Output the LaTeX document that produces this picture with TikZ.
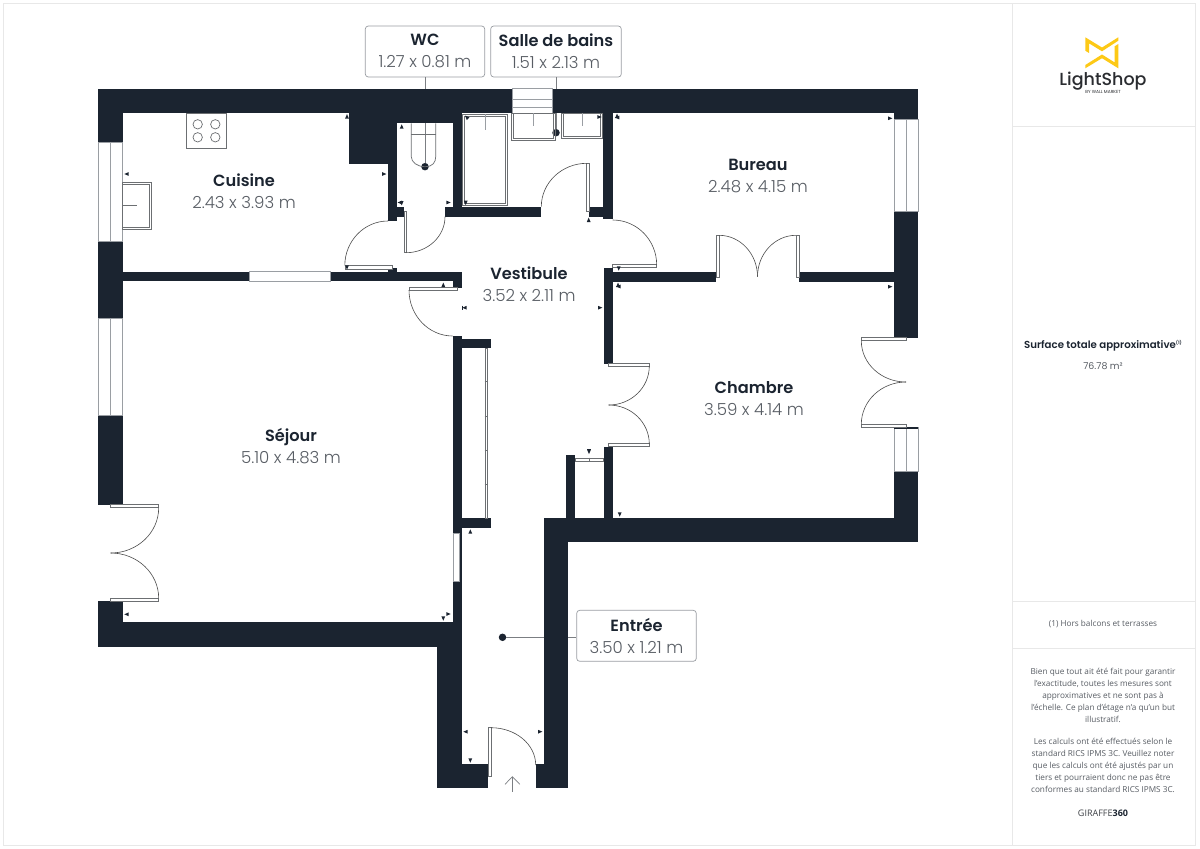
\documentclass[tikz,border=0pt]{standalone}
\usepackage{fontspec}
\setmainfont{Poppins}
\newfontfamily\lightfont{Poppins Light}
\newfontfamily\semifont{Poppins SemiBold}
\newfontfamily\mediumfont{Poppins Medium}
\newfontfamily\notefont{Open Sans}
\usetikzlibrary{calc}
\definecolor{wallc}{HTML}{1B2430}
\definecolor{greytxt}{HTML}{585D64}
\definecolor{edgec}{HTML}{9A9EA3}
\definecolor{framec}{HTML}{E8E8E8}
\definecolor{logoy}{HTML}{FDC916}
\definecolor{logok}{HTML}{2A2C30}
\tikzset{
  wall/.style={fill=wallc,draw=none},
  pane/.style={fill=white,draw=edgec,line width=0.6pt},
  fixture/.style={draw=edgec!70!black,line width=0.7pt},
  leaf/.style={fill=white,draw=edgec!70!black,line width=0.6pt},
  swing/.style={draw=black!70,line width=0.6pt},
  tagbox/.style={draw=edgec,rounded corners=3pt,line width=0.7pt,fill=white,inner sep=0pt,align=center},
  linkline/.style={draw=edgec!80!black,line width=0.7pt},
  pin/.style={circle,fill=wallc,inner sep=0pt,minimum size=7.5pt},
  roomname/.style={text=wallc,font=\semifont\fontsize{16.2}{18}\selectfont,inner sep=0pt},
  roomsize/.style={text=greytxt,font=\lightfont\fontsize{16.6}{18}\selectfont,inner sep=0pt},
  notetext/.style={text=greytxt,font=\notefont\fontsize{8.2}{12}\selectfont,inner sep=0pt,align=center},
}
\newcommand\wl[4]{\fill[wall] (#1,#2) rectangle (#3,#4);}
\newcommand\qarc[6]{\draw[swing] (#1,#2) .. controls ($(#1,#2)!0.5523!(#5,#6)$) and ($(#3,#4)!0.5523!(#5,#6)$) .. (#3,#4);}
\begin{document}
\begin{tikzpicture}[x=1pt,y=-1pt]
\useasboundingbox (0,0) rectangle (1200,849);
\fill[white] (0,0) rectangle (1200,849);

% sidebar frame
\draw[framec,line width=1pt] (3.5,3.5) rectangle (1195.5,845.5);
\draw[framec,line width=1pt] (1012,3.5) -- (1012,845.5);
\draw[framec,line width=1pt] (1012,126) -- (1195.5,126);
\draw[framec,line width=1pt] (1012,601) -- (1195.5,601);
\draw[framec,line width=1pt] (1012,648) -- (1195.5,648);

% tags and pins
\node[tagbox,minimum width=119.4pt,minimum height=51pt] (wcbox) at (425,51.5) {};
\node[tagbox,minimum width=130.6pt,minimum height=51pt] (sdbbox) at (556,51.5) {};
\node[tagbox,minimum width=119.6pt,minimum height=51pt] (entbox) at (636.5,635.8) {};
\node[pin] (wcpin) at (425,166.7) {};
\node[pin] (sdbpin) at (556,132.7) {};
\node[pin] (entpin) at (502.5,637.3) {};
\draw[linkline] (wcbox.south) -- (wcpin);
\draw[linkline] (sdbbox.south) -- (sdbpin);
\draw[linkline] (entpin) -- (entpin -| entbox.west);

% walls
\wl{98.3}{88.5}{512.3}{113.3}
\wl{552.7}{88.5}{918.3}{113.3}
\wl{98.3}{88.5}{122.7}{142.7}
\wl{98.3}{241.7}{122.7}{318}
\wl{98.3}{415}{122.7}{505}
\wl{98.3}{601}{122.7}{646.7}
\wl{349.3}{113}{462.3}{123.3}
\wl{349.3}{113}{397}{164.3}
\wl{388}{164}{397}{221}
\wl{396}{206.7}{404}{216.7}
\wl{452.7}{113}{462.3}{216.7}
\wl{445}{206.7}{541.3}{216.7}
\wl{589.3}{206.7}{612.7}{216.7}
\wl{603.3}{113}{612.7}{219.3}
\wl{122.7}{271.7}{249}{281}
\wl{330.7}{271.7}{461.7}{281}
\wl{452.7}{280}{461.7}{287.7}
\wl{388}{268.3}{397}{272}
\wl{452.7}{336}{462}{533.3}
\wl{459}{533}{462}{582}
\wl{452.7}{581}{462}{623}
\wl{462}{338.7}{491}{348}
\wl{462}{518.3}{491}{527.7}
\wl{98.3}{622.3}{438}{646.7}
\wl{437.3}{622.3}{462}{788.3}
\wl{437.3}{763.7}{488}{788.3}
\wl{536}{763.7}{568.3}{788.3}
\wl{543.7}{518.3}{568.3}{788.3}
\wl{543.7}{518.3}{918.3}{542.3}
\wl{894}{471.7}{918.3}{542.3}
\wl{894}{211.7}{918.3}{337.5}
\wl{894}{88.5}{918.3}{119.3}
\wl{603.7}{267.7}{613}{364}
\wl{603.7}{446.7}{613}{518.3}
\wl{565.7}{455}{575}{518.3}
\wl{613}{272.3}{716}{282}
\wl{799}{272.3}{894}{282}

% windows
\draw[pane] (98.3,142.7) rectangle (122.7,241.7); \draw[pane] (110.7,142.7) -- (110.7,241.7);
\draw[pane] (98.3,318) rectangle (122.7,415); \draw[pane] (110.7,318) -- (110.7,415);
\draw[pane] (249,271.7) rectangle (330.7,281);
\draw[pane] (512.3,88.5) rectangle (552.7,113.3); \draw[pane] (512.3,99.5) -- (552.7,99.5); \draw[pane] (512.3,107) -- (552.7,107);
\draw[pane] (894,119.3) rectangle (918.3,211.7); \draw[pane] (906,119.3) -- (906,211.7);
\draw[pane] (894,427) rectangle (918.3,471.7); \draw[pane] (906,427) -- (906,471.7);
\draw[wallc,line width=1.2pt] (894,428) -- (918.3,428);
\draw[pane] (453,533.3) rectangle (459,581);

% fixtures: hob
\draw[fixture] (186.7,113.3) rectangle (226.7,148.3);
\foreach \cx/\cy in {197.7/124.3,215.3/124.3,197.7/137.3,215.3/137.3}
  \draw[fixture] (\cx,\cy) circle (4.7);
% sink
\draw[fixture] (122.7,182.3) rectangle (151.7,229.3);
\draw[fixture] (122.7,184.3) rectangle (149.7,227.3);
\draw[fixture] (122.7,205.3) -- (137,205.3);
% toilet
\draw[fixture] (411.3,123.3) -- (411.3,156.7) .. controls (411.3,162) and (417,166.7) .. (425,166.7) .. controls (433,166.7) and (435.7,162) .. (435.7,156.7) -- (435.7,123.3);
\draw[fixture] (411.3,134.3) -- (435.7,134.3);
% bath
\draw[fixture] (462.7,114.3) rectangle (507.7,205.7);
\draw[fixture] (464.7,116) rectangle (505.7,203.7);
\draw[edgec,line width=0.7pt] (485,114.3) -- (485,130);
% basins
\draw[fixture] (511,113.3) rectangle (555.7,140);
\draw[fixture] (513,113.3) rectangle (553.7,138);
\draw[edgec,line width=0.7pt] (533,113.3) -- (533,126);
\draw[fixture] (561.7,113.3) rectangle (602.7,138.3);
\draw[fixture] (563.7,113.3) rectangle (600.7,136.3);
\draw[edgec,line width=0.7pt] (582,113.3) -- (582,126);
% wardrobe sliding doors
\draw[leaf] (485,348) rectangle (487.3,518.3);
\foreach \ty in {381.7,416,450,484} \draw[leaf] (484.5,\ty) -- (487.8,\ty);
\draw[leaf] (575,458.3) rectangle (603.7,461.3);
\draw[leaf] (589,457.5) -- (589,462);

% door leaves
\draw[leaf] (345,265.7) rectangle (392.7,269.3);
\draw[leaf] (404,211.7) rectangle (406.7,252.7);
\draw[leaf] (586.7,163.3) rectangle (589.3,211.7);
\draw[leaf] (612.7,264.3) rectangle (656.7,267.7);
\draw[leaf] (716.3,235.3) rectangle (719.3,277.3);
\draw[leaf] (796,235.3) rectangle (799,277.3);
\draw[leaf] (409,287.7) rectangle (457.7,290.3);
\draw[leaf] (608.7,363.7) rectangle (649.3,366.3);
\draw[leaf] (608.7,443.7) rectangle (649.3,446.3);
\draw[leaf] (861.3,337.7) rectangle (906,340.7);
\draw[leaf] (861.3,424.3) rectangle (906,427);
\draw[leaf] (110.7,504.7) rectangle (158.7,507.7);
\draw[leaf] (110.7,598.3) rectangle (158.7,601.3);
\draw[leaf] (488.3,727.7) rectangle (491.7,776);

% door swings
\qarc{344.8}{265.7}{388}{221}{344.8}{221}
\qarc{406}{252.7}{445}{216.7}{445}{252.7}
\qarc{587}{163.3}{541.3}{206.7}{541.3}{163.3}
\qarc{612.7}{220}{656.7}{265}{656.7}{220}
\qarc{719}{235.3}{757.5}{276.7}{757.5}{235.3}
\qarc{796}{235.3}{757.5}{276.7}{757.5}{235.3}
\qarc{409}{290}{452.7}{336}{409}{336}
\qarc{649.3}{366}{608.7}{405}{649.3}{405}
\qarc{649.3}{444}{608.7}{405}{649.3}{405}
\qarc{861.3}{340.7}{906}{382}{861.3}{382}
\qarc{861.3}{424.3}{906}{382}{861.3}{382}
\qarc{158.7}{507.7}{110.7}{553}{158.7}{553}
\qarc{158.7}{598.3}{110.7}{553}{158.7}{553}
\qarc{491}{727.7}{535.7}{765}{535.7}{727.7}

% dimension ticks: x / y / direction
\foreach \x/\y/\a in {347/116.5/90,126.7/174/180,384/174/0,347/267.3/270,
  401.7/126.7/90,401.7/203/270,400/202.5/180,448.3/202.5/0,
  466.7/117.3/135,465.7/202.7/270,599.3/117/0,588.7/220/90,
  617.3/117.5/180,617/116/90,890/118.3/0,618.7/268.3/270,890/286.7/0,
  618.5/286.5/180,618/285/90,443.3/285/90,464.7/307.7/180,600/307.7/0,
  589/451.7/270,619.7/514.3/270,470.3/531.7/90,126.7/614.3/180,
  443.3/618.3/270,448.3/614/0,465.7/731.7/180,540/731.7/0,470.3/760.3/270}
  \fill[wallc,shift={(\x,\y)},rotate=\a] (2.4,0) -- (-2,1.9) -- (-2,-1.9) -- cycle;
\draw[wallc,line width=0.5pt] (462.2,305.7) -- (462.2,309.7);
\draw[wallc,line width=0.5pt] (587,449) -- (591,449);

% entry arrow
\draw[edgec!80!black,line width=0.7pt] (512.4,791.5) -- (512.4,777);
\draw[edgec!80!black,line width=0.7pt] (505,784.3) -- (512.4,776.7) -- (519.8,784.3);

% room labels
\node[roomname] (n1) at (425,40) {WC};
\node[roomsize] (s1) at (425,62) {1.27 x 0.81 m};
\node[roomname] (n2) at (556,40) {Salle de bains};
\node[roomsize] (s2) at (556,62) {1.51 x 2.13 m};
\node[roomname] (n3) at (244,180) {Cuisine};
\node[roomsize] (s3) at (244,202) {2.43 x 3.93 m};
\node[roomname] (n4) at (758,165) {Bureau};
\node[roomsize] (s4) at (758,187) {2.48 x 4.15 m};
\node[roomname] (n5) at (529,273) {Vestibule};
\node[roomsize] (s5) at (529,295) {3.52 x 2.11 m};
\node[roomname] (n6) at (754,388) {Chambre};
\node[roomsize] (s6) at (754,409) {3.59 x 4.14 m};
\node[roomname] (n7) at (291,437) {Séjour};
\node[roomsize] (s7) at (291,458) {5.10 x 4.83 m};
\node[roomname] (n8) at (636.5,625) {Entrée};
\node[roomsize] (s8) at (636.5,647) {3.50 x 1.21 m};

% logo
\fill[logoy] (1085.3,37.3) -- (1102,47.5) -- (1118.3,37.3) -- (1118.3,40.7) -- (1102,51.3) -- (1089,43.3) -- (1089,53) -- (1085.3,50.7) -- cycle;
\fill[logoy] (1118.3,68.3) -- (1102,58.2) -- (1085.3,68.3) -- (1085.3,65) -- (1102,54.5) -- (1114.6,62.4) -- (1114.6,46.3) -- (1118.3,44) -- cycle;
\node[text=logok,font=\mediumfont\fontsize{17.5}{20}\selectfont,inner sep=0pt] (logoname) at (1103,81.5) {LightShop};
\node[text=logok,font=\fontsize{4.4}{5}\selectfont,inner sep=0pt] (logosub) at (1103,91.5) {BY WALL MARKET};

% side texts
\node[text=wallc,font=\semifont\fontsize{10.2}{12}\selectfont,inner sep=0pt] (surf) at (1103,345.5) {Surface totale approximative\raisebox{3.5pt}{\fontsize{4.5}{5}\selectfont (1)}};
\node[text=greytxt,font=\fontsize{9.4}{12}\selectfont,inner sep=0pt] (surfv) at (1103,366) {76.78 m²};
\node[notetext] (hors) at (1103,624.3) {(1) Hors balcons et terrasses};
\node[notetext,anchor=north] (disc1) at (1103,668) {Bien que tout ait été fait pour garantir\\l’exactitude, toutes les mesures sont\\approximatives et ne sont pas à\\l’échelle. Ce plan d’étage n’a qu’un but\\illustratif.};
\node[notetext,anchor=north] (disc2) at (1103,738.5) {Les calculs ont été effectués selon le\\standard RICS IPMS 3C. Veuillez noter\\que les calculs ont été ajustés par un\\tiers et pourraient donc ne pas être\\conformes au standard RICS IPMS 3C.};
\node[text=greytxt!70!black,font=\notefont\fontsize{9}{12}\selectfont,inner sep=0pt] (gir) at (1103,813.7) {GIRAFFE{\color{wallc}\bfseries 360}};
\end{tikzpicture}
\end{document}
